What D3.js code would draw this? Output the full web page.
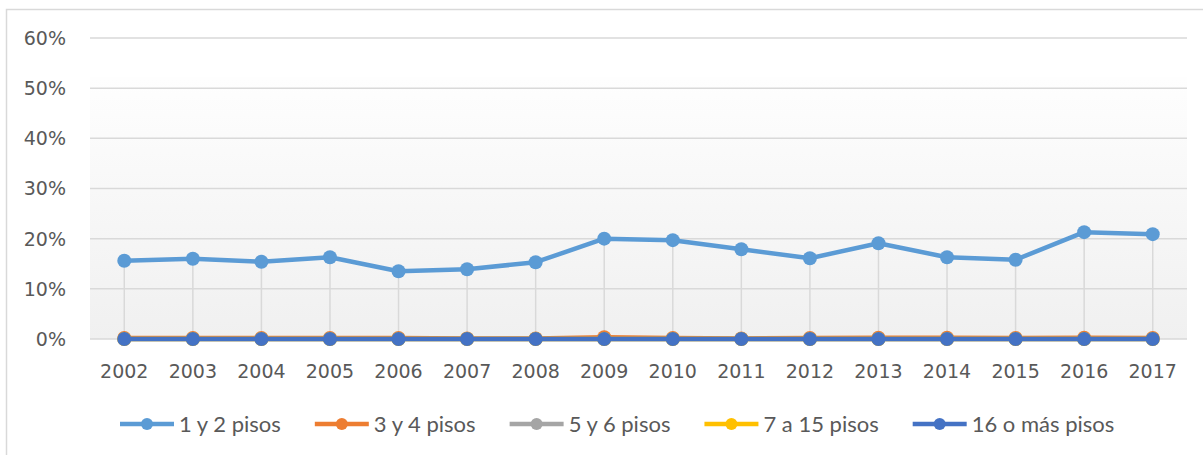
<!DOCTYPE html>
<meta charset="utf-8">
<html>
<head>
    <title>pisos</title>
    <script src="https://cdn.jsdelivr.net/npm/d3@7"></script>
    <style>
        body { margin: 0; background: #fff; }
        text { fill: #595959; }
    </style>
</head>
<body>
    <div id="line-chart"></div>
    <script>
        var years = ["2002","2003","2004","2005","2006","2007","2008","2009","2010","2011","2012","2013","2014","2015","2016","2017"];
        var seriesNames = ["1 y 2 pisos", "3 y 4 pisos", "5 y 6 pisos", "7 a 15 pisos", "16 o más pisos"];
        var pisos1y2  = [15.6, 16.0, 15.4, 16.3, 13.5, 13.9, 15.3, 20.0, 19.7, 17.9, 16.1, 19.1, 16.3, 15.8, 21.3, 20.9];
        var pisos3y4  = [0.2, 0.2, 0.2, 0.2, 0.2, 0.1, 0.1, 0.35, 0.2, 0.1, 0.2, 0.25, 0.25, 0.2, 0.25, 0.2];
        var pisos5y6  = [0, 0, 0, 0, 0, 0, 0, 0, 0, 0, 0, 0, 0, 0, 0, 0];
        var pisos7a15 = [0, 0, 0, 0, 0, 0, 0, 0, 0, 0, 0, 0, 0, 0, 0, 0];
        var pisos16   = [0, 0, 0, 0, 0, 0, 0, 0, 0, 0, 0, 0, 0, 0, 0, 0];
        var yTicks = [0, 10, 20, 30, 40, 50, 60];
        var colors = ["#5b9bd5", "#ed7d31", "#a5a5a5", "#ffc000", "#4472c4"];

        var allSeries = [pisos1y2, pisos3y4, pisos5y6, pisos7a15, pisos16];

        var width = 1203, height = 455;
        var plot = {left: 90, right: 1187, top: 38, bottom: 339};

        var svg = d3.select("#line-chart").append("svg")
            .attr("width", width)
            .attr("height", height);

        // chart border
        svg.append("rect")
            .attr("x", 6.5).attr("y", 9.5)
            .attr("width", 1200).attr("height", 460)
            .attr("fill", "none")
            .attr("stroke", "#d9d9d9")
            .attr("stroke-width", 1.5);

        var defs = svg.append("defs");
        var grad = defs.append("linearGradient")
            .attr("id", "bg").attr("x1", 0).attr("y1", 0).attr("x2", 0).attr("y2", 1);
        grad.append("stop").attr("offset", "0%").attr("stop-color", "#fefefe");
        grad.append("stop").attr("offset", "100%").attr("stop-color", "#f0f0f0");

        var x = d3.scaleBand()
            .domain(years)
            .range([plot.left, plot.right]);
        var y = d3.scaleLinear()
            .domain([0, 60])
            .range([plot.bottom, plot.top]);

        function cx(d) { return x(d) + x.bandwidth() / 2; }

        svg.append("rect")
            .attr("x", plot.left).attr("y", 77)
            .attr("width", plot.right - plot.left)
            .attr("height", plot.bottom - 77)
            .attr("fill", "url(#bg)");

        // horizontal gridlines
        svg.append("g").selectAll("line")
            .data(yTicks).enter()
            .append("line")
            .attr("x1", plot.left).attr("x2", plot.right)
            .attr("y1", function(d){ return y(d); })
            .attr("y2", function(d){ return y(d); })
            .attr("stroke", "#d9d9d9")
            .attr("stroke-width", 1.5);

        // y labels
        svg.append("g").selectAll("text")
            .data(yTicks).enter()
            .append("text")
            .attr("x", 66)
            .attr("y", function(d){ return y(d); })
            .attr("dy", "0.36em")
            .attr("text-anchor", "end")
            .attr("font-family", "DejaVu Sans")
            .attr("font-size", "19px")
            .text(function(d){ return d + "%"; });

        // x labels
        svg.append("g").selectAll("text")
            .data(years).enter()
            .append("text")
            .attr("x", function(d){ return cx(d); })
            .attr("y", 378)
            .attr("text-anchor", "middle")
            .attr("font-family", "DejaVu Sans")
            .attr("font-size", "19px")
            .text(function(d){ return d; });

        // drop lines
        svg.append("g").selectAll("line")
            .data(years).enter()
            .append("line")
            .attr("x1", function(d){ return cx(d); })
            .attr("x2", function(d){ return cx(d); })
            .attr("y1", function(d, i){ return y(d3.max(allSeries, function(s){ return s[i]; })); })
            .attr("y2", y(0))
            .attr("stroke", "#d9d9d9")
            .attr("stroke-width", 1.5);

        var line = d3.line()
            .x(function(d, i){ return cx(years[i]); })
            .y(function(d){ return y(d); });

        allSeries.forEach(function(s, k){
            var g = svg.append("g");
            g.append("path")
                .datum(s)
                .attr("d", line)
                .attr("fill", "none")
                .attr("stroke", colors[k])
                .attr("stroke-width", 4.5)
                .attr("stroke-linejoin", "round");
            g.selectAll("circle")
                .data(s).enter()
                .append("circle")
                .attr("cx", function(d, i){ return cx(years[i]); })
                .attr("cy", function(d){ return y(d); })
                .attr("r", 7)
                .attr("fill", colors[k]);
        });

        // legend, items laid out one after another
        var legendG = svg.append("g").attr("transform", "translate(0,424)");
        var lx = 120;
        seriesNames.forEach(function(name, i){
            var item = legendG.append("g").attr("transform", "translate(" + lx + ",0)");
            item.append("line")
                .attr("x1", 0).attr("x2", 54)
                .attr("stroke", colors[i])
                .attr("stroke-width", 4.5);
            item.append("circle")
                .attr("cx", 27).attr("r", 6)
                .attr("fill", colors[i]);
            var t = item.append("text")
                .attr("x", 59)
                .attr("dy", "0.35em")
                .attr("font-family", "Lato")
                .attr("font-size", "22px")
                .text(name);
            lx += 59 + t.node().getComputedTextLength() + 34;
        });
    </script>
</body>
</html>
